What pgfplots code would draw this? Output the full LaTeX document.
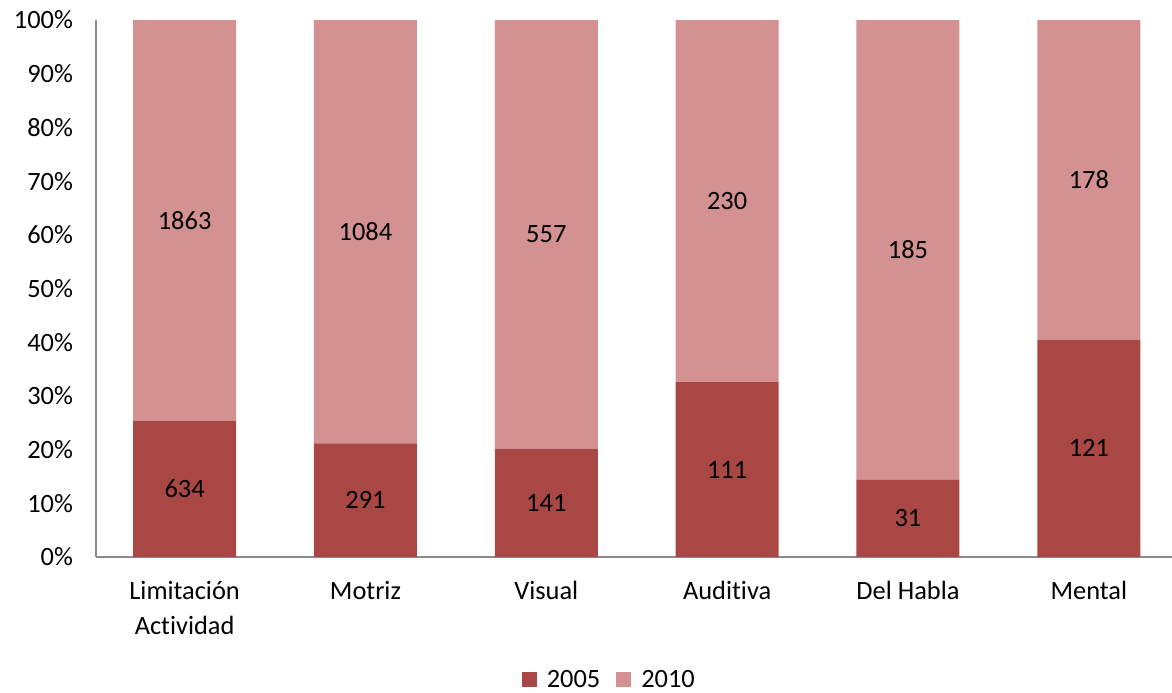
\documentclass[border=0pt]{standalone}
\usepackage{pgfplots}
\pgfplotsset{compat=1.18}
\usepackage{fontspec}
\setmainfont{Carlito}[Ligatures=NoCommon]
\definecolor{dark}{HTML}{A94745}
\definecolor{light}{HTML}{D39291}
\definecolor{axisgray}{HTML}{8C8C8C}
\pgfplotsset{frame/.style={
    at={(0pt,0pt)}, anchor=south west,
    scale only axis,
    width=538pt, height=268.5pt,
    xmin=-0.49, xmax=5.46,
    ymin=0, ymax=100}}
\begin{document}
\begin{tikzpicture}[font=\fontsize{13.2}{17.5}\selectfont]
\path[use as bounding box] (-48pt,-67.5pt) rectangle (538pt,278.5pt);
\begin{axis}[
    frame,
    ybar stacked,
    bar width=51.5pt,
    xtick={0,1,2,3,4,5},
    xticklabels={{Limitación\\Actividad},Motriz,Visual,Auditiva,Del Habla,Mental},
    xticklabel style={align=center, yshift=-8.5pt},
    ytick={0,10,20,30,40,50,60,70,80,90,100},
    yticklabels={0\%,10\%,20\%,30\%,40\%,50\%,60\%,70\%,80\%,90\%,100\%},
    yticklabel style={xshift=-8pt},
    major tick length=0pt,
    axis x line*=bottom, axis y line*=left,
    axis line style={axisgray, line width=1pt},
    x axis line style={-}, y axis line style={-},
    legend style={at={(0.478,-0.229)}, anchor=center, draw=none,
        legend columns=-1, column sep=3pt,
        /tikz/every even column/.append style={column sep=6pt}},
    legend image code/.code={\fill[#1] (0pt,-3.5pt) rectangle (7.5pt,4pt);},
]
\addplot[fill=dark, draw=none] coordinates {
    (0,25.39) (1,21.16) (2,20.20) (3,32.55) (4,14.35) (5,40.47)
};
\addlegendentry{2005}
\addplot[fill=light, draw=none] coordinates {
    (0,74.61) (1,78.84) (2,79.80) (3,67.45) (4,85.65) (5,59.53)
};
\addlegendentry{2010}
\end{axis}
% value labels at the middle of each segment
\begin{axis}[frame, hide axis,
    point meta=explicit symbolic,
    nodes near coords,
    every node near coord/.style={anchor=center, text=black}]
\addplot[only marks, mark=none] coordinates {
    (0,12.70) [634]
    (1,10.58) [291]
    (2,10.10) [141]
    (3,16.28) [111]
    (4,7.18) [31]
    (5,20.24) [121]
};
\addplot[only marks, mark=none] coordinates {
    (0,62.70) [1863]
    (1,60.58) [1084]
    (2,60.10) [557]
    (3,66.28) [230]
    (4,57.18) [185]
    (5,70.24) [178]
};
\end{axis}
\end{tikzpicture}
\end{document}
